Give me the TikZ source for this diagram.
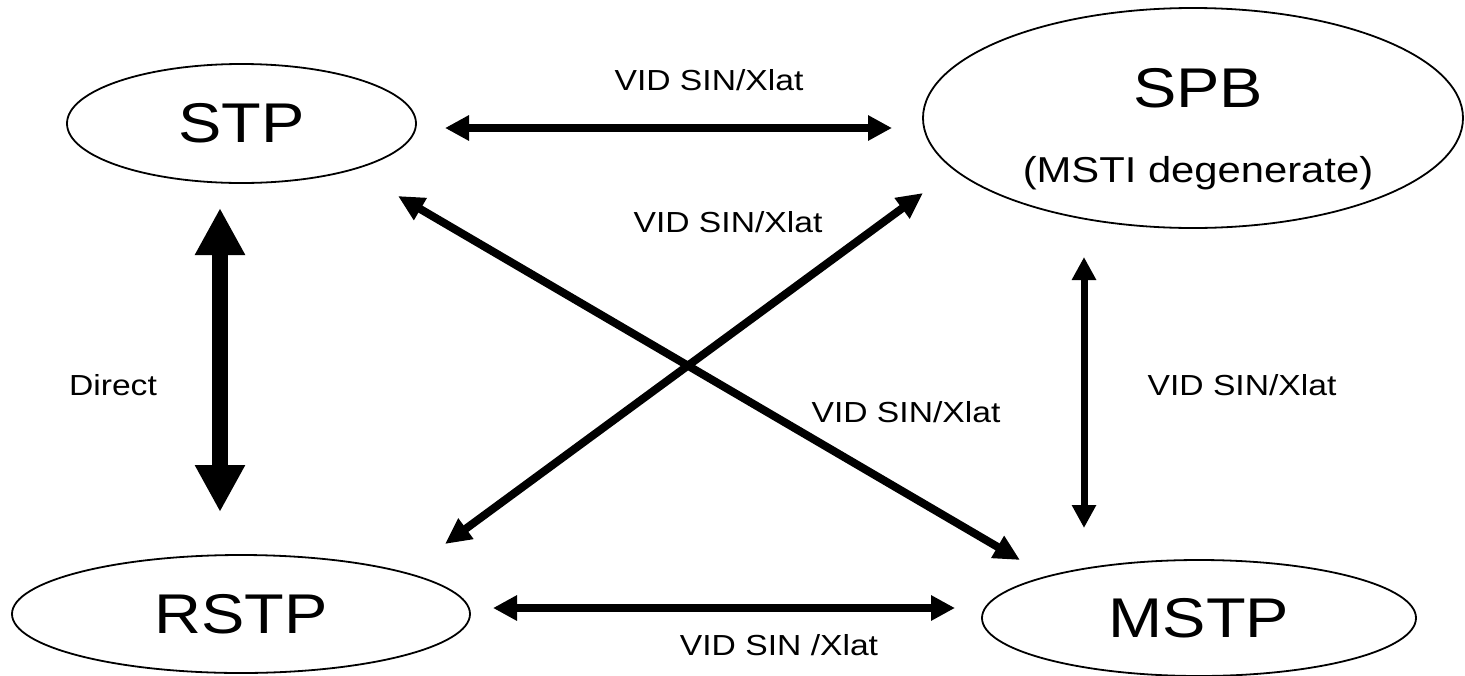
\documentclass[tikz,border=0pt]{standalone}
\usepackage{fontspec}
\setmainfont{Liberation Sans}[FakeStretch=1.16]
\usetikzlibrary{shapes.geometric,arrows.meta}
\begin{document}
\begin{tikzpicture}[x=1pt,y=-1pt,
  proto/.style={ellipse, draw, line width=1.8pt, inner sep=0pt},
  big/.style={font=\fontsize{56}{60}\selectfont},
  sub/.style={font=\fontsize{36}{40}\selectfont},
  lbl/.style={font=\fontsize{29}{34}\selectfont, anchor=base, inner sep=0pt},
  link/.style={line width=8pt, {Triangle[length=24pt,width=24pt]}-{Triangle[length=24pt,width=24pt]}},
  thin link/.style={line width=7pt, {Triangle[length=23pt,width=23pt]}-{Triangle[length=23pt,width=23pt]}},
  heavy link/.style={line width=16pt, {Triangle[length=47pt,width=47pt]}-{Triangle[length=47pt,width=47pt]}},
  diag link/.style={line width=8pt, {Triangle[length=26pt,width=24pt]}-{Triangle[length=26pt,width=24pt]}}]
\useasboundingbox (0,0) rectangle (1465,675);

% protocol ellipses
\node[proto, big, minimum width=349pt, minimum height=119pt] (stp) at (241.5,123.5) {STP};
\node[proto, minimum width=540pt, minimum height=220pt] (spb) at (1193,118) {};
\node[big, anchor=base, inner sep=0pt] (spbname) at (1198,107) {SPB};
\node[sub, anchor=base, inner sep=0pt] (spbnote) at (1198,182) {(MSTI degenerate)};
\node[proto, big, minimum width=458pt, minimum height=118pt] (rstp) at (241,614) {RSTP};
\node[proto, big, minimum width=434pt, minimum height=116pt] (mstp) at (1199,618) {MSTP};

% arrow end points
\coordinate (stpE) at (445,128);
\coordinate (spbW) at (892,128);
\coordinate (stpS) at (220,208);
\coordinate (rstpN) at (220,512);
\coordinate (spbS) at (1084,257);
\coordinate (mstpN) at (1084,528);
\coordinate (rstpE) at (493,608);
\coordinate (mstpW) at (955,608);
\coordinate (stpSE) at (398,196);
\coordinate (mstpNW) at (1020,560);
\coordinate (spbSW) at (923,193);
\coordinate (rstpNE) at (445,544);

% connections
\draw[link] (stpE) -- (spbW);
\draw[heavy link] (stpS) -- (rstpN);
\draw[thin link] (spbS) -- (mstpN);
\draw[link] (rstpE) -- (mstpW);
\draw[diag link] (stpSE) -- (mstpNW);
\draw[diag link] (spbSW) -- (rstpNE);

% labels
\node[lbl] (l1) at (709,90.5) {VID SIN/Xlat};
\node[lbl] (l2) at (728,232.5) {VID SIN/Xlat};
\node[lbl] (l3) at (113,395.5) {Direct};
\node[lbl] (l4) at (1242,395.5) {VID SIN/Xlat};
\node[lbl] (l5) at (906,422.5) {VID SIN/Xlat};
\node[lbl] (l6) at (779,655.5) {VID SIN /Xlat};
\end{tikzpicture}
\end{document}
